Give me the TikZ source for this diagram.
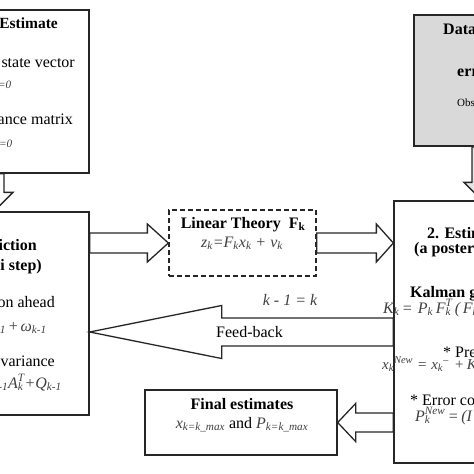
\documentclass[tikz,border=0pt]{standalone}
\usepackage{fontspec}
\setmainfont{Liberation Serif}
\usetikzlibrary{calc}
\newcommand\mysb[1]{\textsubscript{\textit{#1}}}
\newcommand\mysp[1]{\textsuperscript{\textit{#1}}}
\newcommand\SbSp[2]{\rlap{\mysb{#1}}\mysp{#2}}
\newcommand\G{\hspace{2.6pt}}
\newcommand\HBlock[6][]{%
  \draw[blockarrow,#1] let \p1=(#2), \p2=(#3) in
    (\x1,{\y1+#4pt}) -- ({\x2-(#6pt)},{\y1+#4pt}) -- ({\x2-(#6pt)},{\y1+#5pt})
    -- (\x2,\y1) -- ({\x2-(#6pt)},{\y1-#5pt}) -- ({\x2-(#6pt)},{\y1-#4pt})
    -- (\x1,{\y1-#4pt}) -- cycle;}
\newcommand\VBlock[6][]{%
  \draw[blockarrow,#1] let \p1=(#2), \p2=(#3) in
    ({\x1-#4pt},\y1) -- ({\x1-#4pt},{\y2+#6pt}) -- ({\x1-#5pt},{\y2+#6pt})
    -- (\x1,\y2) -- ({\x1+#5pt},{\y2+#6pt}) -- ({\x1+#4pt},{\y2+#6pt})
    -- ({\x1+#4pt},\y1) -- cycle;}
\begin{document}
\begin{tikzpicture}[x=1pt,y=-1pt,
  box/.style={draw=black!85, line width=1.3pt, inner sep=0pt},
  blockarrow/.style={draw=black!85, line width=1.3pt, fill=white, line join=miter},
  txt/.style={inner sep=0pt, font=\fontsize{16}{18}\selectfont},
  btxt/.style={inner sep=0pt, font=\fontsize{16}{18}\selectfont\bfseries},
  fml/.style={inner sep=0pt, text=black!75, font=\fontsize{16}{18}\selectfont\itshape}]
\useasboundingbox (0,0) rectangle (474,474);
\clip (0,0) rectangle (474,474);
% boxes
\node[box, minimum width=189pt, minimum height=163pt] (init) at (-5.5,91.5) {};
\node[box, minimum width=189pt, minimum height=203pt] (pred) at (-5.5,313.5) {};
\node[box, dashed, dash pattern=on 5pt off 3pt, minimum width=147pt, minimum height=66pt] (lin) at (242.5,243) {};
\node[box, minimum width=186pt, minimum height=262pt] (est) at (487,332) {};
\node[box, fill=gray!30, line width=1.8pt, minimum width=166pt, minimum height=131pt] (data) at (497,80.5) {};
\node[box, minimum width=192pt, minimum height=65pt] (final) at (241,422.5) {};
% helper coordinates
\coordinate (ax) at (-6,0);
\coordinate (bx) at (482,0);
\coordinate (fb) at (300,332);
% block arrows
\VBlock{init.south -| ax}{pred.north -| ax}{10}{19}{19}
\VBlock[fill=gray!20]{data.south -| bx}{est.north -| bx}{10}{18}{18}
\HBlock{pred.east |- lin.west}{lin.west}{10}{19}{21}
\HBlock{lin.east}{est.west |- lin.east}{10}{19}{17}
\HBlock{est.west |- fb}{pred.east |- fb}{14}{26.5}{-132}
\HBlock{est.west |- final.east}{final.east}{9.5}{19}{-18}
% initial estimate texts
\node[btxt, anchor=base east, font=\fontsize{15.5}{18}\selectfont\bfseries] (i1) at (58,28) {1. Initial Estimate};
\node[txt, anchor=base east] (i2) at (75,67) {Initial state vector};
\node[fml, anchor=base east] (i3) at (12,86) {x\mysb{k=0}};
\node[txt, anchor=base east] (i4) at (73,124) {Initial covariance matrix};
\node[fml, anchor=base east] (i5) at (13,145) {P\mysb{k=0}};
% prediction texts
\node[btxt, anchor=base east] (p1) at (37,250) {1. Prediction};
\node[btxt, anchor=base east] (p2) at (42,270) {(a priori step)};
\node[txt, anchor=base east] (p3) at (55,307) {Projection ahead};
\node[fml, anchor=base east] (p4) at (47,331) {x\SbSp{k}{–} = A\mysb{k}x\mysb{k-1}\hspace{2pt}+\hspace{2pt}ω\mysb{k-1}};
\node[txt, anchor=base east] (p5) at (55,366) {Error covariance};
\node[fml, anchor=base east] (p6) at (62,388) {P\SbSp{k}{–} = A\mysb{k}P\mysb{k-1}A\SbSp{k}{T}+Q\mysb{k-1}};
% linear theory
\node[btxt, anchor=base] (l1) at (243,228) {Linear Theory~~F\textsubscript{k}};
\node[fml, anchor=base] (l2) at (242,247) {z\mysb{k}=F\mysb{k}x\mysb{k} + ν\mysb{k}};
% feedback
\node[fml, anchor=base] (fb2) at (290,305) {k - 1 = k};
\node[txt, anchor=base west] (fb1) at (216,337) {Feed-back};
% final
\node[btxt, anchor=base] (f1) at (242,409) {Final estimates};
\node[txt, anchor=base] (f2) at (242,428) {{\color{black!75}\itshape x\mysb{k=k\_max}} and {\color{black!75}\itshape P\mysb{k=k\_max}}};
% estimation texts
\node[btxt, anchor=base west] (e1) at (427,238) {2. Estimation};
\node[btxt, anchor=base west] (e2) at (414,253) {(a posteriori step)};
\node[btxt, anchor=base west] (e3) at (410,297) {Kalman gain matrix};
\node[fml, anchor=base west] (e4) at (383,313) {K\mysb{k}\G=\G\G P\mysb{k}\G F\SbSp{k}{T}\G(\G F\mysb{k}\G P\mysb{k}\G F\SbSp{k}{T}\G+\G R\mysb{k})\mysp{-1}};
\node[txt, anchor=base west] (e5) at (443,357) {* Prediction};
\node[fml, anchor=base west, font=\fontsize{15}{17}\selectfont\itshape] (e6) at (382,369) {x\mysb{k}\mysp{New}\hspace{4pt}=\hspace{4pt}x\mysb{k}\mysp{–}\G\G+\G K\mysb{k}(z\mysb{k}\G–\G F\mysb{k}x\SbSp{k}{–})};
\node[txt, anchor=base west] (e7) at (410,405) {* Error covariance};
\node[fml, anchor=base west] (e8) at (415,421) {P\SbSp{k}{New}\G=\G(I\G–\G K\mysb{k}F\mysb{k})P\SbSp{k}{–}};
% data texts
\node[btxt, anchor=base west] (d1) at (443,34) {Data and};
\node[btxt, anchor=base west] (d2) at (457,76) {errors};
\node[txt, anchor=base west, font=\fontsize{11}{13}\selectfont] (d3) at (457,106) {Observations};
\end{tikzpicture}
\end{document}
